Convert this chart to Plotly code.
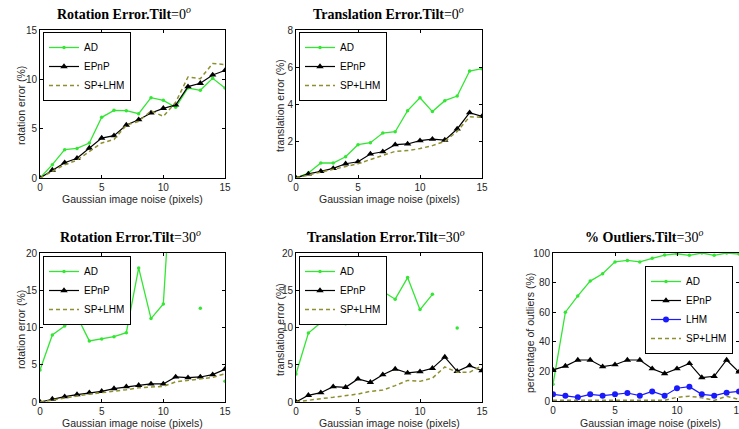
import plotly.graph_objects as go

# ---------------- data ----------------
noise = list(range(16))

# Rotation error, tilt 0
rot0_ad = [0, 1.35, 2.87, 3.0, 3.55, 6.15, 6.86, 6.82, 6.52, 8.14, 7.87, 7.16, 9.12, 8.89, 10.1, 9.12]
rot0_epnp = [0, 0.81, 1.55, 2.0, 3.04, 4.05, 4.29, 5.37, 5.91, 6.59, 7.06, 7.4, 9.26, 9.6, 10.44, 10.9]
rot0_splhm = [0, 0.68, 1.35, 1.8, 2.7, 3.55, 3.9, 5.35, 5.75, 6.8, 6.25, 7.67, 10.24, 10.07, 11.6, 11.5]

# Translation error, tilt 0
tra0_ad = [0, 0.27, 0.81, 0.81, 1.15, 1.8, 1.91, 2.43, 2.5, 3.64, 4.34, 3.59, 4.18, 4.43, 5.78, 5.91]
tra0_epnp = [0, 0.22, 0.36, 0.52, 0.77, 0.88, 1.3, 1.42, 1.8, 1.84, 2.02, 2.1, 2.05, 2.65, 3.53, 3.33]
tra0_splhm = [0, 0.18, 0.32, 0.47, 0.63, 0.77, 1.0, 1.22, 1.44, 1.48, 1.59, 1.75, 1.98, 2.52, 3.31, 3.28]

# Rotation error, tilt 30
rot30_ad = [4.3, 9.0, 10.2, 11.5, 8.2, 8.45, 8.77, 9.3, 18.0, 11.2, 13.15, 40.0, None, 12.57, None, 2.8]
rot30_epnp = [0, 0.4, 0.72, 1.0, 1.25, 1.43, 1.8, 2.06, 2.24, 2.42, 2.42, 3.36, 3.27, 3.36, 3.67, 4.4]
rot30_splhm = [0, 0.3, 0.55, 0.8, 1.05, 1.2, 1.45, 1.65, 1.9, 2.0, 2.1, 2.7, 2.9, 3.05, 3.3, 3.8]

# Translation error, tilt 30
tra30_ad = [3.76, 9.26, 10.65, 10.6, 10.5, 13.56, 10.9, 14.85, 13.8, 16.7, 12.4, 14.45, None, 9.93, None, None]
tra30_epnp = [0, 0.9, 1.25, 2.06, 1.97, 3.09, 2.64, 3.67, 4.43, 3.9, 4.07, 4.52, 6.04, 4.12, 4.88, 4.2]
tra30_splhm = [0, 0.27, 0.45, 0.63, 0.85, 1.07, 1.43, 1.6, 2.2, 2.9, 2.77, 3.2, 4.7, 4.0, 3.98, 4.9]

# Outliers, tilt 30
out30_ad = [11.3, 60, 71, 81, 86, 94, 95, 94, 96.4, 98.6, 99.5, 98.4, 100, 98.4, 100, 99.3]
out30_epnp = [21, 23.6, 27.7, 27.7, 23.2, 24.5, 27.7, 27.7, 21.8, 18.5, 21.8, 25.4, 15.8, 16.7, 27.7, 19.6]
out30_lhm = [4.5, 3.6, 2.5, 4.5, 3.6, 4.5, 5.4, 3.6, 6.5, 3.6, 8.6, 9.7, 4.5, 3.6, 5.6, 6.5]
out30_splhm = [0.5, 0.5, 0.5, 0.5, 0.5, 0.5, 0.5, 0.5, 0.5, 0.5, 2.5, 3.2, 2.2, 0.4, 3.2, 1.0]

x_ticks = [0, 5, 10, 15]

# ---------------- styling ----------------
W, H = 739, 429
GREEN = "#33e633"
BLACK = "#000000"
BLUE = "#1a1aff"
OLIVE = "#8f8f30"
SANS = "Liberation Sans, Arial, sans-serif"
SERIF = "Liberation Serif, Times New Roman, serif"
TXT = "#262626"

def px_x(p):
    return p / W

def px_y(p):
    return 1 - p / H

# axes pixel boxes: (left, right, top, bottom)
boxes = {
    1: (40, 225, 30, 178),
    2: (296, 482, 30, 178),
    3: (40, 225, 253, 402),
    4: (296, 482, 253, 402),
    5: (553, 739, 253, 401),
}

fig = go.Figure()

def add(ax, y, name, kind, legend):
    xa = "x" if ax == 1 else f"x{ax}"
    ya = "y" if ax == 1 else f"y{ax}"
    if kind == "AD":
        style = dict(mode="lines+markers", line=dict(color=GREEN, width=1.3),
                     marker=dict(color=GREEN, size=3.5, symbol="circle"))
    elif kind == "EPnP":
        style = dict(mode="lines+markers", line=dict(color=BLACK, width=1.2),
                     marker=dict(color=BLACK, size=6.5, symbol="triangle-up"))
    elif kind == "LHM":
        style = dict(mode="lines+markers", line=dict(color=BLUE, width=1.2),
                     marker=dict(color=BLUE, size=6, symbol="circle"))
    else:
        style = dict(mode="lines", line=dict(color=OLIVE, width=1.5, dash="4px,3px"))
    fig.add_trace(go.Scatter(x=noise, y=y, name=name, xaxis=xa, yaxis=ya,
                             legend=legend, connectgaps=False, **style))

add(1, rot0_ad, "AD", "AD", "legend")
add(1, rot0_epnp, "EPnP", "EPnP", "legend")
add(1, rot0_splhm, "SP+LHM", "SP", "legend")

add(2, tra0_ad, "AD", "AD", "legend2")
add(2, tra0_epnp, "EPnP", "EPnP", "legend2")
add(2, tra0_splhm, "SP+LHM", "SP", "legend2")

add(3, rot30_ad, "AD", "AD", "legend3")
add(3, rot30_epnp, "EPnP", "EPnP", "legend3")
add(3, rot30_splhm, "SP+LHM", "SP", "legend3")

add(4, tra30_ad, "AD", "AD", "legend4")
add(4, tra30_epnp, "EPnP", "EPnP", "legend4")
add(4, tra30_splhm, "SP+LHM", "SP", "legend4")

add(5, out30_ad, "AD", "AD", "legend5")
add(5, out30_epnp, "EPnP", "EPnP", "legend5")
add(5, out30_lhm, "LHM", "LHM", "legend5")
add(5, out30_splhm, "SP+LHM", "SP", "legend5")

yranges = {1: ([0, 15], [0, 5, 10, 15]),
           2: ([0, 8], [0, 2, 4, 6, 8]),
           3: ([0, 20], [0, 5, 10, 15, 20]),
           4: ([0, 20], [0, 5, 10, 15, 20]),
           5: ([0, 100], [0, 20, 40, 60, 80, 100])}

axis_common = dict(showline=True, linecolor="black", linewidth=1, mirror="ticks",
                   ticks="inside", ticklen=3, tickcolor="black", showgrid=False,
                   zeroline=False, automargin=False, ticklabeloverflow="allow",
                   tickfont=dict(family=SANS, size=10, color=TXT))

layout = {}
for i, (l, r, t, b) in boxes.items():
    sx = "" if i == 1 else str(i)
    layout[f"xaxis{sx}"] = dict(domain=[px_x(l), min(px_x(r), 1.0)], anchor=f"y{sx}",
                                range=[0, 15], tickvals=x_ticks, **axis_common)
    rng, tv = yranges[i]
    layout[f"yaxis{sx}"] = dict(domain=[px_y(b), px_y(t)], anchor=f"x{sx}",
                                range=rng, tickvals=tv, **axis_common)

leg_common = dict(bgcolor="white", bordercolor="black", borderwidth=1,
                  font=dict(family=SANS, size=10, color="black"),
                  yanchor="top", itemwidth=30, tracegroupgap=0)
layout["legend"] = dict(x=px_x(43), y=px_y(32), xanchor="left", **leg_common)
layout["legend2"] = dict(x=px_x(299), y=px_y(32), xanchor="left", **leg_common)
layout["legend3"] = dict(x=px_x(43), y=px_y(256), xanchor="left", **leg_common)
layout["legend4"] = dict(x=px_x(299), y=px_y(256), xanchor="left", **leg_common)
layout["legend5"] = dict(x=px_x(733), y=px_y(266), xanchor="right", **leg_common)

annotations = []
titles = [
    ("Rotation Error.Tilt", "0", 124, 13),
    ("Translation Error.Tilt", "0", 388, 13),
    ("Rotation Error.Tilt", "30", 130, 236),
    ("Translation Error.Tilt", "30", 386, 236),
    ("% Outliers.Tilt", "30", 644, 236),
]
for txt, deg, cx, cy in titles:
    annotations.append(dict(
        text=f"<b>{txt}</b>={deg}<sup><i>o</i></sup>", x=px_x(cx), y=px_y(cy),
        xref="paper", yref="paper", showarrow=False, xanchor="center", yanchor="middle",
        font=dict(family=SERIF, size=14, color="black")))

xlabels = [(132, 199), (389, 199), (132, 422.5), (389, 422.5), (650, 422.5)]
for cx, cy in xlabels:
    annotations.append(dict(
        text="Gaussian image noise (pixels)", x=px_x(cx), y=px_y(cy),
        xref="paper", yref="paper", showarrow=False, xanchor="center", yanchor="middle",
        font=dict(family=SANS, size=10.5, color=TXT)))

ylabels = [("rotation error (%)", 21, 106), ("translation error (%)", 280, 106),
           ("rotation error (%)", 21, 330), ("translation error (%)", 280, 330),
           ("percentage of outliers (%)", 530, 333)]
for txt, cx, cy in ylabels:
    annotations.append(dict(
        text=txt, x=px_x(cx), y=px_y(cy), textangle=-90,
        xref="paper", yref="paper", showarrow=False, xanchor="center", yanchor="middle",
        font=dict(family=SANS, size=10.5, color=TXT)))

fig.update_layout(width=W, height=H, margin=dict(l=0, r=0, t=0, b=0, autoexpand=False),
                  paper_bgcolor="white", plot_bgcolor="white",
                  annotations=annotations, **layout)

fig.write_html("out.html")
